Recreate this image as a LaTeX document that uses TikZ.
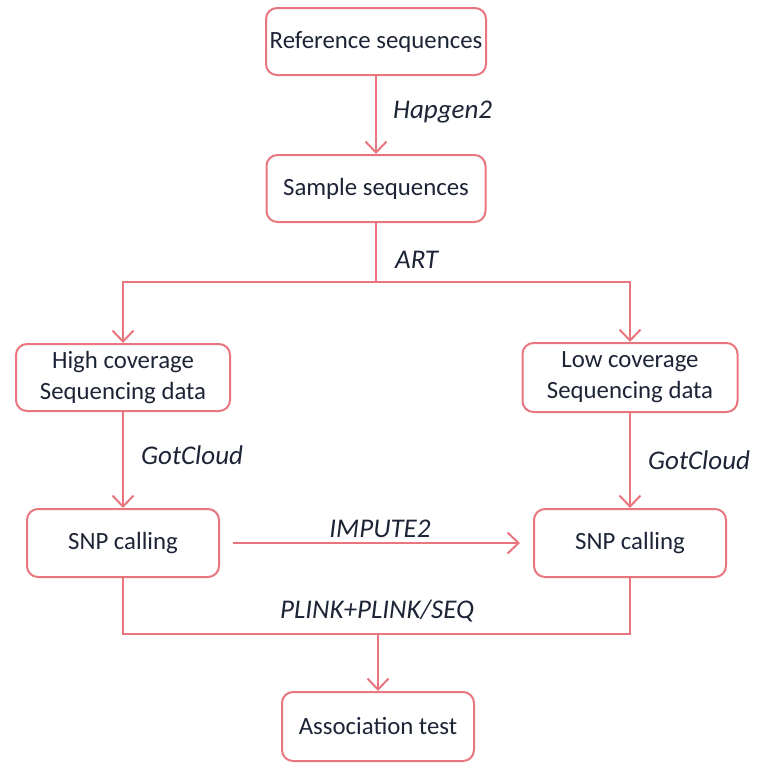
\documentclass[tikz,border=0pt]{standalone}
\usepackage{fontspec}
\setmainfont{Carlito}
\usetikzlibrary{arrows.meta}
\definecolor{linepink}{HTML}{E9767E}
\definecolor{txtnavy}{HTML}{1C2436}
\tikzset{
  box/.style={draw=linepink, line width=2pt, rounded corners=11pt, fill=white,
    text=txtnavy, align=center, inner sep=0pt,
    font=\fontsize{24.8}{31}\selectfont},
  conn/.style={draw=linepink, line width=2pt},
  arr/.style={conn, -{Straight Barb[length=11pt,width=21pt]}},
  lbl/.style={text=txtnavy, inner sep=0pt, anchor=base west,
    font=\fontsize{27}{32}\selectfont\itshape}
}
\begin{document}
\begin{tikzpicture}[x=1pt,y=-1pt]
\useasboundingbox (0,0) rectangle (759,763);
\node[box, minimum width=220pt, minimum height=67pt] (ref) at (376,41.5) {Reference sequences};
\node[box, minimum width=219pt, minimum height=67pt] (sample) at (376,188.5) {Sample sequences};
\node[box, minimum width=214pt, minimum height=67pt] (high) at (123,377.5) {High coverage\\Sequencing data};
\node[box, minimum width=215pt, minimum height=69pt] (low) at (630,377.5) {Low coverage\\Sequencing data};
\node[box, minimum width=192pt, minimum height=68pt] (snpA) at (123,543) {SNP calling};
\node[box, minimum width=192pt, minimum height=68pt] (snpB) at (630,543) {SNP calling};
\node[box, minimum width=192pt, minimum height=69pt] (assoc) at (378,726.5) {Association test};

\coordinate (artM) at (376,282);
\coordinate (join) at (378,634);

\draw[arr] (ref.south) -- (sample.north);
\draw[arr] (sample.south) -- (artM) -| (high.north);
\draw[arr] (artM) -| (low.north);
\draw[arr] (high.south) -- (snpA.north);
\draw[arr] (low.south) -- (snpB.north);
\draw[arr, shorten <=13pt, shorten >=13pt] (snpA.east) -- (snpB.west);
\draw[conn] (snpA.south) |- (join) -| (snpB.south);
\draw[arr] (join) -- (assoc.north);

\node[lbl] (lHap) at (393,118) {Hapgen2};
\node[lbl] (lArt) at (395,268) {ART};
\node[lbl] (lGotA) at (141,464) {GotCloud};
\node[lbl] (lGotB) at (648,469) {GotCloud};
\node[lbl, anchor=base] (lImp) at (380,537) {IMPUTE2};
\node[lbl, anchor=base] (lPlink) at (377,618) {PLINK+PLINK/SEQ};
\end{tikzpicture}
\end{document}
